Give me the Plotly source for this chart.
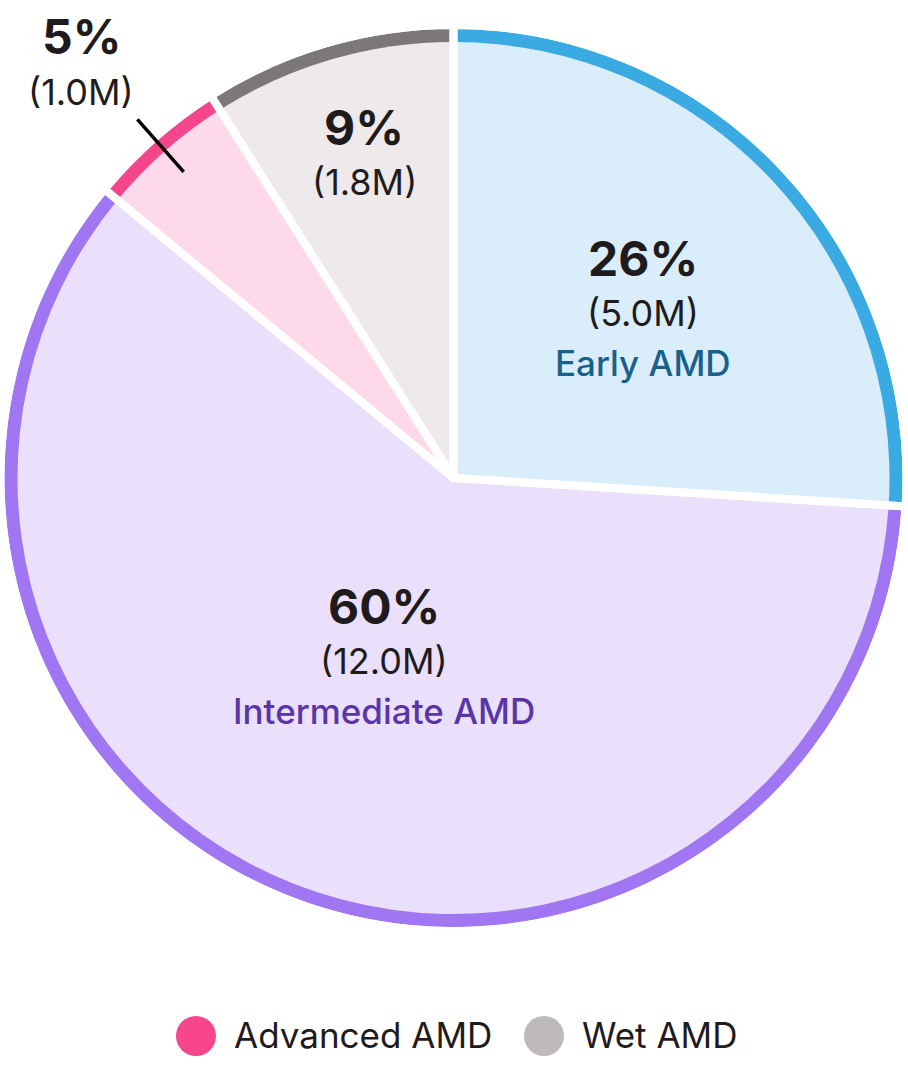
import math
import plotly.graph_objects as go

# data
labels = ['Early AMD', 'Intermediate AMD', 'Advanced AMD', 'Wet AMD']
shares = [26, 60, 5, 9]
patients_m = [5.0, 12.0, 1.0, 1.8]
legend_labels = ['Advanced AMD', 'Wet AMD']

arc_colors = ['#3AAAE3', '#A076F2', '#F5468D', '#7C7879']
fill_colors = ['#DAEDFB', '#EAE0FC', '#FDD9EA', '#EEEAEB']
name_colors = {'Early AMD': '#17618C', 'Intermediate AMD': '#5A35A8'}
legend_colors = {'Advanced AMD': '#F7468C', 'Wet AMD': '#BEBABB'}

W, H = 908, 1072
CX, CY = 453.5, 478
R_ARC = 449
R_FILL = 436
GAP = 8
FONT = 'Inter'
INK = '#1F1B1D'

# where the text blocks sit (pixel centre of the first line)
label_pos = {
    'Early AMD': (643, 258),
    'Intermediate AMD': (384, 606),
    'Advanced AMD': (81, 37),
    'Wet AMD': (364, 127),
}
line_offsets = [0, 55, 105]


def px(x, y):
    return x / W, 1 - y / H


def domain(r):
    return dict(x=[(CX - r) / W, (CX + r) / W], y=[1 - (CY + r) / H, 1 - (CY - r) / H])


def pie(colors, r, line_w=0, line_c='white'):
    return go.Pie(
        labels=labels, values=shares, sort=False, direction='clockwise', rotation=0,
        marker=dict(colors=colors, line=dict(color=line_c, width=line_w)),
        textinfo='none', hoverinfo='label+percent', showlegend=False, domain=domain(r)
    )


fig = go.Figure()
fig.add_trace(pie(arc_colors, R_ARC))
fig.add_trace(pie(fill_colors, R_FILL))
fig.add_trace(pie(['rgba(0,0,0,0)'] * 4, R_ARC + GAP / 2, GAP))

annotations = []
shapes = []
total = sum(shares)
start = 0
for lab, s, m in zip(labels, shares, patients_m):
    mid = (start + s / 2) / total * 2 * math.pi
    start += s
    x0, y0 = label_pos[lab]
    lines = [
        (f'{s}%', 48, 700, INK),
        (f'({m:.1f}M)', 36, 400, INK),
    ]
    if lab in name_colors:
        lines.append((lab, 35, 500, name_colors[lab]))
    for (txt, size, weight, col), dy in zip(lines, line_offsets):
        x, y = px(x0, y0 + dy)
        annotations.append(dict(
            x=x, y=y, xref='paper', yref='paper', text=txt, showarrow=False,
            xanchor='center', yanchor='middle',
            font=dict(family=FONT, size=size, weight=weight, color=col)
        ))
    if lab == 'Advanced AMD':
        # leader line along the slice's mid angle
        r_in, r_out = 408, 478
        ax0, ay0 = px(CX + r_in * math.sin(mid), CY - r_in * math.cos(mid))
        ax1, ay1 = px(CX + r_out * math.sin(mid), CY - r_out * math.cos(mid))
        shapes.append(dict(type='line', xref='paper', yref='paper', x0=ax0, y0=ay0, x1=ax1, y1=ay1,
                           line=dict(color='#000000', width=3.5), layer='above'))

# legend
leg_x = [196, 544]
LEG_Y = 1036
for lab, lx in zip(legend_labels, leg_x):
    cx0, cy0 = px(lx - 20, LEG_Y - 20)
    cx1, cy1 = px(lx + 20, LEG_Y + 20)
    shapes.append(dict(type='circle', xref='paper', yref='paper', x0=cx0, y0=cy0, x1=cx1, y1=cy1,
                       fillcolor=legend_colors[lab], line=dict(width=0), layer='above'))
    tx, ty = px(lx + 36, LEG_Y - 1)
    annotations.append(dict(
        x=tx, y=ty, xref='paper', yref='paper', text=lab, showarrow=False,
        xanchor='left', yanchor='middle', font=dict(family=FONT, size=35, color=INK)
    ))

fig.update_layout(
    width=W, height=H, margin=dict(l=0, r=0, t=0, b=0),
    paper_bgcolor='white', plot_bgcolor='white',
    annotations=annotations, shapes=shapes, showlegend=False
)

fig.write_html('out.html', config={'displayModeBar': False},
               post_script="document.body.style.margin='0';")
